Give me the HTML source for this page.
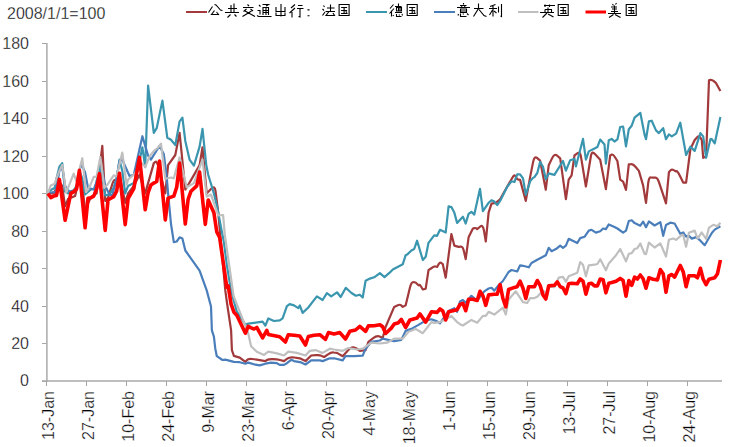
<!DOCTYPE html>
<html><head><meta charset="utf-8"><style>
html,body{margin:0;padding:0;background:#fff;width:729px;height:447px;overflow:hidden}
svg{display:block}
.t{font-family:"Liberation Sans",sans-serif;font-size:16px;fill:#000;stroke:#fff;stroke-width:0.3px}
.c{font-family:"Liberation Sans",sans-serif;font-size:16px;fill:#000}
</style></head><body>
<svg width="729" height="447" viewBox="0 0 729 447">
<rect width="729" height="447" fill="#fff"/>
<text x="7" y="18.5" class="t">2008/1/1=100</text>
<line x1="46.9" y1="43" x2="46.9" y2="381.8" stroke="#B4B4B4" stroke-width="1.7"/>
<line x1="42" y1="381.5" x2="46.5" y2="381.5" stroke="#A6A6A6" stroke-width="1"/>
<text x="29" y="385.8" text-anchor="end" class="t">0</text>
<line x1="42" y1="343.5" x2="46.5" y2="343.5" stroke="#A6A6A6" stroke-width="1"/>
<text x="29" y="349.3" text-anchor="end" class="t">20</text>
<line x1="42" y1="306.5" x2="46.5" y2="306.5" stroke="#A6A6A6" stroke-width="1"/>
<text x="29" y="311.8" text-anchor="end" class="t">40</text>
<line x1="42" y1="268.5" x2="46.5" y2="268.5" stroke="#A6A6A6" stroke-width="1"/>
<text x="29" y="274.3" text-anchor="end" class="t">60</text>
<line x1="42" y1="231.5" x2="46.5" y2="231.5" stroke="#A6A6A6" stroke-width="1"/>
<text x="29" y="236.8" text-anchor="end" class="t">80</text>
<line x1="42" y1="193.5" x2="46.5" y2="193.5" stroke="#A6A6A6" stroke-width="1"/>
<text x="29" y="199.2" text-anchor="end" class="t">100</text>
<line x1="42" y1="156.5" x2="46.5" y2="156.5" stroke="#A6A6A6" stroke-width="1"/>
<text x="29" y="161.7" text-anchor="end" class="t">120</text>
<line x1="42" y1="118.5" x2="46.5" y2="118.5" stroke="#A6A6A6" stroke-width="1"/>
<text x="29" y="124.2" text-anchor="end" class="t">140</text>
<line x1="42" y1="81.5" x2="46.5" y2="81.5" stroke="#A6A6A6" stroke-width="1"/>
<text x="29" y="86.7" text-anchor="end" class="t">160</text>
<line x1="42" y1="43.5" x2="46.5" y2="43.5" stroke="#A6A6A6" stroke-width="1"/>
<text x="29" y="49.2" text-anchor="end" class="t">180</text>
<line x1="42" y1="381.0" x2="722" y2="381.0" stroke="#A8A8A8" stroke-width="1.7"/>
<line x1="46.5" y1="381" x2="46.5" y2="386" stroke="#A6A6A6" stroke-width="1"/>
<text transform="translate(54.0,391) rotate(-90)" text-anchor="end" class="t">13-Jan</text>
<line x1="86.5" y1="381" x2="86.5" y2="386" stroke="#A6A6A6" stroke-width="1"/>
<text transform="translate(94.1,391) rotate(-90)" text-anchor="end" class="t">27-Jan</text>
<line x1="126.5" y1="381" x2="126.5" y2="386" stroke="#A6A6A6" stroke-width="1"/>
<text transform="translate(134.1,391) rotate(-90)" text-anchor="end" class="t">10-Feb</text>
<line x1="166.5" y1="381" x2="166.5" y2="386" stroke="#A6A6A6" stroke-width="1"/>
<text transform="translate(174.2,391) rotate(-90)" text-anchor="end" class="t">24-Feb</text>
<line x1="206.5" y1="381" x2="206.5" y2="386" stroke="#A6A6A6" stroke-width="1"/>
<text transform="translate(214.2,391) rotate(-90)" text-anchor="end" class="t">9-Mar</text>
<line x1="246.5" y1="381" x2="246.5" y2="386" stroke="#A6A6A6" stroke-width="1"/>
<text transform="translate(254.3,391) rotate(-90)" text-anchor="end" class="t">23-Mar</text>
<line x1="286.5" y1="381" x2="286.5" y2="386" stroke="#A6A6A6" stroke-width="1"/>
<text transform="translate(294.4,391) rotate(-90)" text-anchor="end" class="t">6-Apr</text>
<line x1="326.5" y1="381" x2="326.5" y2="386" stroke="#A6A6A6" stroke-width="1"/>
<text transform="translate(334.4,391) rotate(-90)" text-anchor="end" class="t">20-Apr</text>
<line x1="366.5" y1="381" x2="366.5" y2="386" stroke="#A6A6A6" stroke-width="1"/>
<text transform="translate(374.5,391) rotate(-90)" text-anchor="end" class="t">4-May</text>
<line x1="407.5" y1="381" x2="407.5" y2="386" stroke="#A6A6A6" stroke-width="1"/>
<text transform="translate(414.6,391) rotate(-90)" text-anchor="end" class="t">18-May</text>
<line x1="447.5" y1="381" x2="447.5" y2="386" stroke="#A6A6A6" stroke-width="1"/>
<text transform="translate(454.6,391) rotate(-90)" text-anchor="end" class="t">1-Jun</text>
<line x1="487.5" y1="381" x2="487.5" y2="386" stroke="#A6A6A6" stroke-width="1"/>
<text transform="translate(494.7,391) rotate(-90)" text-anchor="end" class="t">15-Jun</text>
<line x1="527.5" y1="381" x2="527.5" y2="386" stroke="#A6A6A6" stroke-width="1"/>
<text transform="translate(534.7,391) rotate(-90)" text-anchor="end" class="t">29-Jun</text>
<line x1="567.5" y1="381" x2="567.5" y2="386" stroke="#A6A6A6" stroke-width="1"/>
<text transform="translate(574.8,391) rotate(-90)" text-anchor="end" class="t">13-Jul</text>
<line x1="607.5" y1="381" x2="607.5" y2="386" stroke="#A6A6A6" stroke-width="1"/>
<text transform="translate(614.9,391) rotate(-90)" text-anchor="end" class="t">27-Jul</text>
<line x1="647.5" y1="381" x2="647.5" y2="386" stroke="#A6A6A6" stroke-width="1"/>
<text transform="translate(654.9,391) rotate(-90)" text-anchor="end" class="t">10-Aug</text>
<line x1="687.5" y1="381" x2="687.5" y2="386" stroke="#A6A6A6" stroke-width="1"/>
<text transform="translate(695.0,391) rotate(-90)" text-anchor="end" class="t">24-Aug</text>
<line x1="186" y1="12" x2="207" y2="12" stroke="#A2393B" stroke-width="2"/>
<line x1="366" y1="12" x2="387" y2="12" stroke="#3A95AF" stroke-width="2"/>
<line x1="434" y1="12" x2="455" y2="12" stroke="#4A7EBB" stroke-width="2"/>
<line x1="518" y1="12" x2="538.5" y2="12" stroke="#BFBFBF" stroke-width="2"/>
<line x1="585.5" y1="12" x2="606" y2="12" stroke="#FF0000" stroke-width="3"/>
<g fill="none" stroke="#000" stroke-width="1.1"><path transform="translate(207.5,0)" d="M1,12.5 L5,6.5 M7,4.5 L8.5,5 L13,10 L15,10.5 M7,10.5 L4,14.5 L11.5,14.5 M9,12 L11.5,15"/><path transform="translate(223.5,0)" d="M4.5,8.5 H13.5 M7.5,5 V12.5 M10.5,3.5 V12 M1.5,12.5 H15.5 M7,14.5 L4,17.5 M11,14.5 L13,16.5"/><path transform="translate(239.5,0)" d="M8,4.5 L9.5,6 M3.5,7.5 H14 M4,11.5 L7,9 M11,9 L13.5,11 M5.5,11 L15.5,16.5 M12,11 L3,16.5"/><path transform="translate(255.5,0)" d="M3.5,5 L5,6.5 M2,10.5 H4.5 V14.5 M1.5,15.5 L3,16.5 H16 M7,4.5 H13 L10.5,6 M7.5,15 V7.5 H13 V15 M10.5,7.5 V15 M7.5,10.5 H13 M7.5,12.5 H13"/><path transform="translate(271.5,0)" d="M9.5,4 V16.5 M4.5,7 V11.5 H13.5 V7 M4.5,12.5 V15.5 H13.5 V12.5"/><path transform="translate(287.5,0)" d="M7.5,4.5 L3.5,8 M7.5,8 L2,13 M4.5,10.5 V17.5 M10.5,5.5 H15 M9.5,8.5 H16 M12.5,8.5 V17 L11,16.5"/><path transform="translate(303.5,0)" d="M4,9.9 H6 M4,15.8 H6"/><path transform="translate(319.5,0)" d="M4,5.5 L5,7 M3,9 L4.5,10.5 M3,15.5 L5.5,12 M7.5,8 H15 M11,4.5 V11 M6,11.5 H15.5 M9.5,11.5 L6.5,15.5 H15 L13.5,13"/><path transform="translate(335.6,0)" d="M3.5,4.5 H13.5 V15.5 H3.5 Z M5.5,7.5 H11.5 M5.5,10.5 H11.5 M5.5,13.5 H12 M8.5,7.5 V13.5 M10,11.5 L11.5,12.5"/><path transform="translate(388,0)" d="M5.5,4.5 L2,8.5 M6,8.5 L1.5,13.5 M3.5,10.5 V16.5 M10.5,3.5 V6 M7,6.5 H13.5 M8.5,7.5 H13.5 V11 H8.5 Z M10.5,7.5 V11 M12,7.5 V11 M7,12.5 H14 M5.5,15 L5,16 M8.5,14 V16.5 H13.5 M11,14.5 L11.5,15.5 M14,14 L14.5,15.5"/><path transform="translate(403.7,0)" d="M3.5,4.5 H13.5 V15.5 H3.5 Z M5.5,7.5 H11.5 M5.5,10.5 H11.5 M5.5,13.5 H12 M8.5,7.5 V13.5 M10,11.5 L11.5,12.5"/><path transform="translate(456,0)" d="M7.5,3 V4.5 M4,5.5 H10.5 M5.5,6 L6,7 M9,6 L8.5,7 M1,7.5 H14 M4.5,9 H10.5 V12.5 H4.5 Z M4.5,11 H10.5 M2.5,14 L2,15.5 M4.5,13.5 V16.5 H10.5 M7,13.5 L7.5,14.5 M11,13.5 L12.5,15"/><path transform="translate(472,0)" d="M2,8.5 H11.5 M6.5,3.5 V8.5 L1.5,16.5 M7,9.5 L12,15.5 L14.5,16.5"/><path transform="translate(488,0)" d="M7.5,4.5 L2,6.5 M1,8.5 H9 M5,5.5 V16.5 M4.5,10 L1.5,15 M6,11 L8.5,13 M10.5,6.5 V12.5 M13.5,4 V16.5 L12.5,16"/><path transform="translate(540,0)" d="M4,5.5 H15 M5,4.5 V7 M9.5,4.5 V7 M5,9.5 H11.5 V12 M5,9.5 V12 M8,7.5 V12.5 M0,12.5 H14 M7,13 L2.5,17.5 M8,14 L13.5,17"/><path transform="translate(554.7,0)" d="M3.5,4.5 H13.5 V15.5 H3.5 Z M5.5,7.5 H11.5 M5.5,10.5 H11.5 M5.5,13.5 H12 M8.5,7.5 V13.5 M10,11.5 L11.5,12.5"/><path transform="translate(607.5,0)" d="M5,4 L6,5.5 M9,3 L8,4.5 M3.5,7 H9.5 M4.5,9 H9.5 M3.5,11.5 H10.5 M7,5.5 V13.5 M0.5,13.5 H13.5 M6,14.5 L1.5,17.5 M7.5,14.5 L13,17.5"/><path transform="translate(622.7,0)" d="M3.5,4.5 H13.5 V15.5 H3.5 Z M5.5,7.5 H11.5 M5.5,10.5 H11.5 M5.5,13.5 H12 M8.5,7.5 V13.5 M10,11.5 L11.5,12.5"/></g>
<path fill="none" stroke="#A2393B" stroke-width="2.2" stroke-linejoin="round" stroke-linecap="butt" d="M47.9,193.4 L53.7,193.4 L56.8,187.3 Q59.4,182.2 60.7,183.9 L62.2,185.9 L65.1,206.4 L68.0,199.1 L75.1,196.1 L78.0,184.3 Q79.4,178.4 80.7,181.8 L82.3,185.9 L85.1,209.6 L90.9,197.2 L96.6,193.4 L102.3,145.8 L105.2,200.9 L108.0,197.8 L112.0,185.1 Q113.7,179.4 115.0,179.8 L116.6,180.3 L118.2,177.2 Q119.5,174.7 120.7,180.6 L125.2,202.8 L128.1,193.4 L133.8,185.9 L139.5,174.7 L145.2,193.4 L153.8,163.1 L155.4,161.9 Q156.7,161.0 158.0,165.5 L159.5,170.9 L165.3,193.4 L168.1,165.1 L175.3,155.0 L179.6,132.9 L185.3,189.7 L191.0,180.1 L199.6,165.1 L202.5,147.3 L206.7,193.4 L211.2,188.8 Q214.8,185.0 215.5,191.0 L218.2,212.2 L225.3,290.4 L226.8,301.5 L231.1,330.4 L231.9,350.1 L233.9,355.9 L239.7,357.6 L245.4,361.9 L247.0,360.0 Q248.2,358.5 252.1,359.0 L256.8,359.6 L265.4,361.1 L267.0,360.0 Q268.3,359.1 272.1,359.1 L273.0,359.1 Q276.9,359.1 280.1,360.0 L284.0,361.1 L287.2,358.7 Q289.7,356.8 294.2,357.5 L299.8,358.3 L305.5,361.1 L311.2,355.5 L315.9,355.2 Q319.8,354.9 321.7,355.9 L324.1,357.0 L328.0,354.3 Q331.2,352.1 333.8,352.5 L337.0,352.9 L342.7,356.2 L347.4,351.0 Q351.3,346.7 353.2,347.3 L355.6,348.0 L359.8,350.8 L365.6,350.1 L368.4,341.8 L373.2,338.2 Q377.0,335.2 379.6,336.5 L382.7,338.0 L385.6,327.0 L394.2,306.9 L397.3,305.4 Q399.9,304.1 401.2,305.4 L402.8,306.9 L405.6,305.4 L409.9,287.8 Q411.4,282.0 413.3,282.2 L415.6,282.5 L418.5,285.3 L419.3,284.9 Q419.9,284.6 421.2,286.8 L422.8,289.5 L425.7,288.7 L428.5,270.2 L431.7,268.0 Q434.2,266.2 435.5,266.5 L437.1,266.8 L438.7,264.2 Q440.0,262.1 441.3,263.0 L442.8,264.2 L445.7,277.7 L451.4,234.0 L454.3,245.6 L458.6,246.9 L460.9,246.6 Q462.9,246.3 464.1,252.1 L465.7,259.1 L468.6,237.3 L472.9,228.5 L474.5,228.1 Q475.7,227.8 476.4,228.4 L477.2,229.1 L480.3,226.5 Q482.9,224.4 483.9,230.3 L485.8,241.5 L488.6,212.6 L491.5,203.6 L495.8,202.8 L500.1,199.3 L511.5,179.2 L513.1,176.5 Q514.4,174.3 515.7,176.5 L517.2,179.2 L520.1,179.9 L525.8,200.9 L530.1,177.1 L533.2,161.6 Q534.4,155.7 537.0,157.9 L540.1,160.6 L545.8,189.7 L548.7,165.3 L551.9,158.6 Q554.4,153.1 557.0,155.5 L560.2,158.4 L565.9,199.1 L568.7,179.6 L571.6,175.4 L574.5,155.4 L577.3,153.3 L578.9,152.7 Q580.2,152.2 581.2,158.1 L585.9,186.5 L590.7,157.2 Q591.6,151.2 593.6,152.9 L595.9,155.0 L600.2,159.7 L605.9,189.1 L610.2,155.4 L611.8,154.6 Q613.1,154.1 615.0,157.2 L617.4,161.0 L620.2,179.6 L623.1,181.6 L626.0,189.9 L628.8,164.4 L631.2,164.1 Q633.1,163.8 635.7,167.0 L638.9,170.9 L643.1,185.4 L646.0,202.8 L648.2,183.1 Q648.9,177.1 650.8,177.4 L653.2,177.7 L655.5,177.6 Q657.5,177.5 659.3,183.2 L666.0,203.4 L668.9,172.3 L670.5,170.4 Q671.8,168.9 673.7,170.1 L676.1,171.5 L676.8,171.2 Q677.5,170.9 680.1,176.2 L683.2,182.6 L686.1,182.6 L690.4,149.0 L694.7,140.0 L697.0,137.4 Q698.9,135.3 700.2,137.4 L701.8,140.0 L703.2,157.8 L706.1,156.5 L709.0,80.3 L710.5,79.9 Q711.8,79.6 713.8,81.2 L716.1,83.2 L720.4,91.0"/>
<polyline fill="none" stroke="#3A95AF" stroke-width="2.2" stroke-linejoin="round" stroke-linecap="butt" points="47.9,192.5 51.4,189.7 54.8,187.8 56.5,178.4 59.4,166.8 62.2,163.2 65.1,191.6 68.0,193.4 70.8,191.0 73.7,190.6 76.5,185.9 79.4,170.9 82.3,178.4 85.1,194.4 90.9,189.5 95.1,188.9 99.4,166.4 102.3,178.4 105.2,195.3 109.5,194.4 113.7,187.8 116.6,178.4 119.5,159.7 122.3,170.9 125.2,193.4 128.1,185.9 133.8,183.1 136.6,174.7 139.5,160.6 142.4,147.3 145.2,167.2 148.1,85.6 153.8,132.9 156.7,128.2 162.4,100.6 167.3,137.7 171.0,139.8 175.3,145.1 179.6,121.4 182.4,117.7 185.3,140.9 189.6,159.7 193.9,165.7 199.6,146.6 202.5,128.9 206.2,164.6 208.2,174.7 213.9,193.4 216.8,205.4 223.9,242.2 226.8,264.7 231.1,291.0 236.8,311.6 245.4,324.7 248.2,323.6 254.0,322.9 262.6,321.7 265.4,325.7 268.3,318.5 274.0,321.0 279.7,320.4 282.6,318.4 286.9,306.2 289.7,304.1 294.0,305.4 298.3,308.2 299.8,305.4 302.6,312.9 308.3,307.5 312.6,301.9 316.9,296.4 322.6,300.0 326.9,293.2 331.2,296.4 337.0,292.3 340.7,297.0 345.8,287.8 351.5,293.0 355.8,295.7 359.8,294.7 362.7,297.5 365.6,280.7 369.9,278.6 374.2,277.3 379.9,273.2 384.5,277.1 389.9,272.4 392.8,269.4 402.8,264.2 405.6,255.3 407.1,254.6 411.4,250.5 414.2,249.0 417.1,240.7 422.8,260.0 425.7,256.8 428.5,242.8 434.2,235.3 437.1,235.8 440.0,229.8 445.7,232.5 448.6,206.4 451.4,207.1 454.3,212.6 457.1,222.9 462.9,216.7 465.7,223.5 468.6,213.9 471.4,211.8 474.3,214.6 480.0,188.8 482.9,211.1 488.6,202.8 491.5,200.2 494.3,201.5 497.2,205.1 500.1,200.9 507.2,186.7 511.5,181.3 514.4,182.0 517.2,174.3 520.1,174.3 523.0,178.4 525.8,194.9 530.1,181.3 533.0,177.9 534.4,177.1 537.3,173.0 540.1,161.9 543.0,166.8 545.8,179.2 548.7,173.4 554.4,174.9 563.0,161.0 565.9,170.6 570.2,160.2 574.5,158.9 575.9,166.4 583.0,138.9 585.9,159.7 588.8,151.4 591.6,149.9 597.4,147.1 600.2,139.6 604.5,144.5 605.9,163.6 608.8,140.2 611.7,138.9 614.5,141.5 617.4,139.4 620.2,127.0 623.1,126.5 626.0,146.4 628.8,129.3 631.7,125.7 634.6,117.7 640.3,112.8 644.6,134.7 646.0,139.2 648.9,121.4 651.7,120.7 656.0,130.4 658.9,133.1 663.2,128.2 666.0,139.2 668.9,134.4 671.8,136.4 676.1,133.6 680.3,122.7 686.1,155.0 690.4,146.7 694.7,150.9 700.4,133.1 703.2,136.4 706.1,157.8 710.4,139.2 711.8,139.2 714.7,143.4 720.4,117.1"/>
<polyline fill="none" stroke="#4A7EBB" stroke-width="2.2" stroke-linejoin="round" stroke-linecap="butt" points="47.9,193.4 50.8,192.5 55.7,191.8 59.4,170.9 62.2,167.2 65.1,185.9 68.8,191.0 72.0,191.4 76.3,188.4 79.4,170.9 81.4,164.0 85.1,172.4 88.0,187.8 93.7,189.5 99.4,174.7 102.3,170.9 105.2,185.9 109.5,194.4 112.3,195.5 116.6,178.4 119.5,161.2 122.3,159.7 129.5,176.0 133.8,174.7 142.4,136.2 148.1,155.6 150.9,159.7 159.5,146.0 163.8,154.1 166.7,176.6 168.1,193.4 171.0,224.0 173.8,242.2 176.7,241.5 179.6,237.3 182.4,238.6 185.3,250.5 199.6,270.7 206.7,290.4 211.0,306.5 211.9,330.4 213.9,336.7 215.3,348.7 216.8,356.2 222.5,360.0 225.3,359.6 233.9,361.9 239.7,362.2 245.4,363.7 248.2,362.6 254.0,364.3 259.7,365.4 265.4,363.7 271.1,362.6 276.9,363.2 279.7,364.9 284.0,364.9 286.9,363.2 291.2,359.8 294.0,361.1 301.2,362.4 305.5,364.5 311.2,360.4 319.8,360.4 322.6,361.1 329.8,358.3 334.1,358.3 342.7,360.4 345.5,356.2 354.1,356.2 362.7,355.7 365.6,348.7 371.3,341.8 379.9,340.5 382.7,338.6 394.2,341.2 401.3,339.9 405.6,330.9 411.4,328.9 418.5,324.9 425.7,320.6 431.4,319.3 437.1,321.4 440.0,323.4 448.6,311.0 454.3,308.2 457.1,311.8 460.0,301.5 462.9,300.0 465.7,302.8 471.4,295.8 477.2,300.7 484.3,291.3 488.6,288.5 491.5,287.8 494.3,290.6 498.6,285.2 502.9,281.0 508.6,272.0 511.5,270.0 517.2,271.5 520.1,265.3 523.0,265.8 528.7,267.3 531.5,263.0 537.3,259.7 543.0,256.8 545.8,255.3 548.7,247.8 551.6,251.2 555.9,249.1 560.2,245.6 563.0,247.8 565.9,245.6 568.7,238.8 577.3,243.0 580.2,238.1 584.5,236.8 588.8,230.6 591.6,229.8 595.9,232.6 600.2,231.3 603.1,228.5 605.9,229.1 608.8,224.4 614.5,227.0 617.4,228.5 623.1,232.6 626.0,230.6 628.8,221.0 631.7,220.3 634.6,223.1 640.3,225.7 643.1,221.6 646.0,227.2 648.9,221.4 654.6,225.5 660.3,222.1 663.2,235.8 666.0,225.0 670.3,222.7 674.6,223.5 680.3,233.8 683.2,232.5 686.1,236.6 688.9,235.8 691.8,238.6 696.1,237.1 700.4,240.7 704.7,245.2 711.8,233.0 714.7,229.6 720.4,226.3"/>
<polyline fill="none" stroke="#BFBFBF" stroke-width="2.2" stroke-linejoin="round" stroke-linecap="butt" points="47.9,193.4 50.8,185.4 54.8,183.7 56.5,178.4 59.4,170.9 62.2,164.9 66.2,192.7 73.7,173.6 76.5,181.6 82.3,158.2 86.0,192.1 90.0,185.9 93.7,176.9 96.6,176.6 100.3,157.1 104.3,187.8 107.5,184.6 113.7,175.4 116.6,176.2 122.3,152.6 126.6,184.6 128.1,179.6 133.8,174.7 136.6,170.9 139.5,167.2 142.4,163.4 145.2,167.2 149.5,156.5 153.8,151.1 158.1,147.5 161.0,143.6 165.3,178.8 171.0,177.5 173.8,178.4 179.6,157.4 186.7,187.3 193.9,183.1 202.5,159.7 206.7,196.6 211.0,194.6 218.2,215.4 223.1,215.0 224.8,234.7 233.6,296.0 239.7,311.6 248.2,333.2 251.1,346.3 256.8,351.7 264.0,354.9 268.3,351.7 276.9,353.4 284.0,355.5 288.3,351.6 296.9,352.9 305.5,355.5 309.8,350.8 315.5,350.1 322.6,352.9 329.8,348.7 334.1,349.5 342.7,350.8 348.4,348.0 357.0,349.5 362.7,348.7 368.4,344.6 371.3,342.7 379.9,343.5 387.0,342.7 394.2,338.6 402.8,338.6 408.5,331.7 415.6,328.9 422.8,333.2 431.4,322.1 434.2,322.9 440.0,322.1 445.7,319.3 451.4,315.9 457.1,322.1 460.0,324.2 462.9,325.5 471.4,319.9 477.2,322.7 482.9,315.9 485.8,315.9 488.6,311.8 494.3,314.6 502.9,307.7 505.8,314.6 508.6,299.4 515.8,291.3 523.0,302.2 527.2,303.0 530.1,298.1 534.4,298.1 537.3,296.8 543.0,290.6 547.3,294.7 548.7,286.5 554.4,287.2 558.7,277.7 563.0,276.9 565.9,281.8 568.7,276.3 577.3,272.8 580.2,262.1 583.0,264.7 585.9,276.3 588.8,265.3 594.5,264.7 597.4,264.0 600.2,259.3 605.9,270.3 608.8,263.4 616.0,255.2 620.2,249.0 626.0,261.3 628.8,253.8 631.7,253.1 634.6,249.0 637.4,248.2 640.3,243.5 644.6,253.8 646.0,254.2 648.9,242.6 654.6,247.5 660.3,243.3 666.0,256.5 668.9,239.8 673.2,238.5 676.1,239.8 681.8,234.9 683.2,234.9 686.1,246.7 688.9,232.8 694.7,230.6 697.5,238.5 701.8,232.5 706.1,239.0 709.0,227.6 713.3,224.8 717.5,226.3 720.4,222.7"/>
<polyline fill="none" stroke="#FF0000" stroke-width="3.6" stroke-linejoin="round" stroke-linecap="butt" points="47.9,193.4 50.8,197.6 53.7,196.1 56.5,195.5 59.4,179.4 65.1,220.3 70.8,193.4 73.7,191.8 76.5,188.9 79.4,170.4 85.1,227.8 88.0,198.3 90.9,197.8 93.7,196.1 96.6,188.9 99.4,173.8 105.2,230.4 108.0,200.0 110.9,198.3 113.7,196.6 116.6,191.2 119.5,173.4 125.2,224.6 128.1,198.7 133.8,188.6 139.5,157.4 145.2,209.8 148.1,192.5 150.9,185.0 153.8,183.1 156.7,181.4 159.5,161.0 165.3,219.9 168.1,198.1 173.8,196.1 176.7,187.3 179.6,163.1 185.3,224.0 188.1,199.4 191.0,191.2 196.7,185.9 199.6,172.1 205.3,224.4 208.2,200.0 213.9,212.8 216.8,231.9 219.6,237.3 226.8,287.2 228.2,285.9 231.1,304.1 233.9,312.2 236.8,315.2 245.4,333.2 248.2,326.4 251.1,327.9 254.0,329.0 256.8,327.5 262.6,337.9 266.8,330.4 268.3,334.5 279.7,336.7 285.4,342.0 288.3,334.7 294.0,335.2 299.8,336.0 305.5,345.0 308.3,336.5 314.1,335.2 319.8,334.7 325.5,339.4 328.4,332.6 334.1,333.9 339.8,332.6 345.5,339.0 349.8,331.3 355.6,330.0 359.8,326.4 365.6,331.3 368.4,325.9 374.2,325.7 379.9,324.7 382.7,326.8 385.6,333.5 391.3,328.1 394.2,324.0 398.5,322.7 401.3,319.3 405.6,327.5 409.9,320.0 417.1,318.0 419.9,313.9 425.7,322.1 431.4,311.8 437.1,312.4 440.0,309.0 442.8,311.0 445.7,320.0 448.6,311.8 457.1,309.7 460.0,304.5 462.9,303.4 465.7,310.7 468.6,299.2 472.9,299.2 477.2,300.5 480.0,291.3 482.9,295.7 485.8,305.4 488.6,294.9 494.3,294.2 497.2,294.2 500.1,284.6 502.9,298.5 505.8,306.9 508.6,289.5 514.4,287.4 517.2,286.7 520.1,281.2 523.0,288.2 525.8,298.5 528.7,286.7 534.4,286.7 537.3,280.5 540.1,285.3 543.0,294.9 545.8,299.0 548.7,285.9 554.4,285.3 557.3,281.8 560.2,286.7 563.0,288.0 565.9,293.6 568.7,283.8 571.6,283.3 577.3,283.8 580.2,279.0 583.0,281.2 585.9,294.2 588.8,283.8 591.6,283.3 594.5,285.9 597.4,285.9 600.2,279.0 603.1,279.7 605.9,292.8 608.8,283.3 611.7,282.5 616.0,281.2 620.2,278.4 623.1,280.5 626.0,296.2 628.8,280.5 631.7,285.3 634.6,277.1 637.4,279.0 640.3,275.0 643.1,278.8 646.0,288.2 648.9,277.8 653.2,279.2 657.5,279.9 660.3,269.6 663.2,273.7 666.0,292.3 668.9,275.8 671.8,274.5 674.6,277.1 680.3,265.5 683.2,271.7 686.1,286.7 688.9,275.8 694.7,275.8 697.5,277.8 700.4,268.3 703.2,279.2 706.1,284.6 709.0,279.2 714.7,277.8 717.5,273.7 720.4,260.0"/>
</svg>
</body></html>
